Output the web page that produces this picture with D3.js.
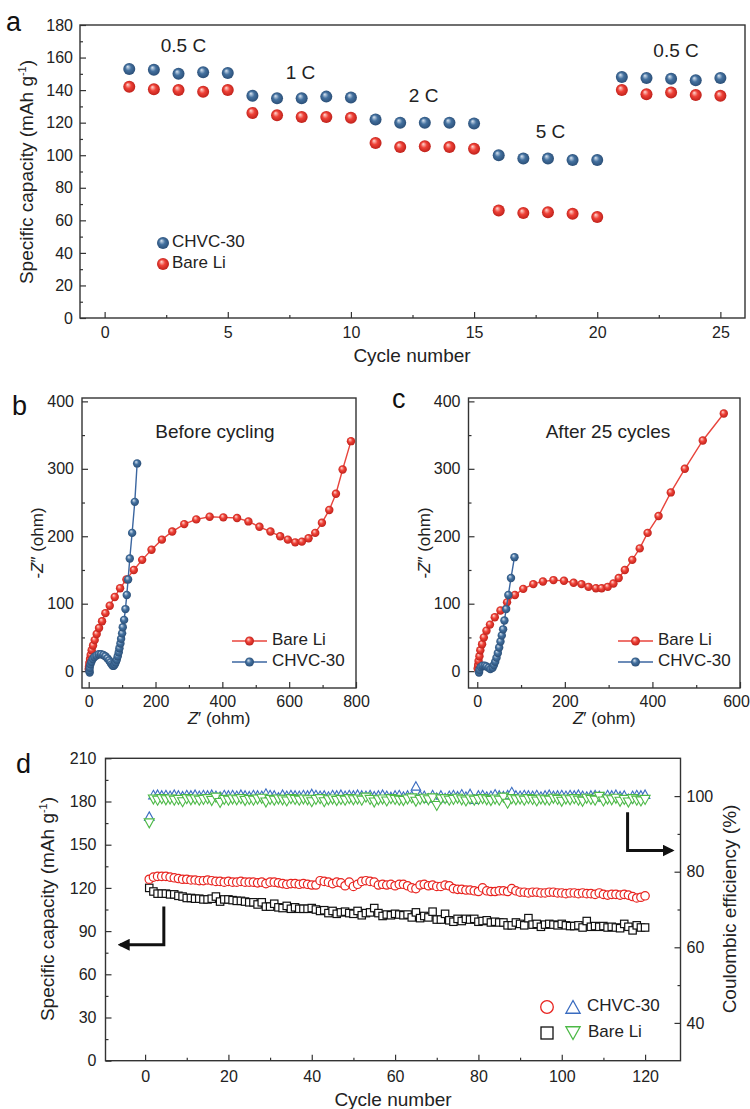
<!DOCTYPE html>
<html>
<head>
<meta charset="utf-8">
<script src="https://cdn.jsdelivr.net/npm/d3@7"></script>
<style>
  body { margin: 0; background: #fff; }
  svg { font-family: Arial, "Liberation Sans", Helvetica, sans-serif; }
</style>
</head>
<body>
<svg id="fig" width="750" height="1109"></svg>
<script>
// ---- data: panel a (rate capability) ----
const rateCycles = d3.range(1, 26);
const rateChvc = [153, 152.5, 150, 151, 150.5, 136.5, 135, 135, 136, 135.5, 122, 120, 120, 120, 119.5,
  100, 98, 98, 97, 97, 148, 147.5, 147, 146, 147.5];
const rateBare = [142, 140.5, 140, 139, 140, 126, 124.5, 123.5, 123.5, 123, 107.5, 105, 105.5, 105, 104,
  66, 64.5, 65, 64, 62, 140, 137.5, 138.5, 137, 136.5];
const rateLabels = ["0.5 C", "1 C", "2 C", "5 C", "0.5 C"];
const rateLabelAt = [[3.2, 166.5], [7.95, 150], [12.95, 135.7], [18.1, 113.6], [23.2, 163.4]];

// ---- data: panel b (EIS before cycling) ----
const bBareRe = [0, 1, 2, 4, 6, 9, 13, 18, 24, 31, 40, 50, 63, 78, 94, 113, 135, 160, 188, 219, 250, 286,
  322, 362, 403, 444, 478, 511, 544, 573, 596, 618, 638, 658, 678, 698, 720, 740, 760, 785];
const bBareIm = [3, 7, 12, 18, 24, 31, 38, 46, 55, 64, 74, 86, 97, 110, 123, 136, 150, 165, 180, 195, 207, 218,
  225, 229, 228, 227, 222, 214, 207, 200, 195, 191, 192, 197, 205, 220, 239, 263, 299, 341];
const bChvcRe = [3, 2, 3, 5, 8, 12, 17, 23, 30, 37, 44, 50, 56, 61, 65, 69, 72, 75, 78, 81, 84, 87, 90, 92,
  95, 97, 100, 102, 106, 110, 114, 118, 123, 130, 138, 145];
const bChvcIm = [-2, 1, 5, 10, 14, 18, 21, 23, 25, 25, 24, 22, 19, 16, 13, 10, 8, 8, 10, 13, 17, 22, 28, 34,
  41, 48, 56, 65, 76, 92, 113, 136, 167, 205, 251, 308];

// ---- data: panel c (EIS after 25 cycles) ----
const cBareRe = [1, 2, 3, 5, 7, 11, 15, 21, 29, 40, 53, 68, 86, 105, 128, 150, 174, 198, 220, 238, 254, 271,
  284, 298, 311, 323, 337, 354, 371, 389, 414, 442, 474, 515, 563];
const cBareIm = [4, 9, 15, 22, 31, 40, 50, 60, 69, 80, 90, 102, 113, 122, 129, 133, 135, 134, 131, 129, 125, 123,
  123, 125, 130, 138, 150, 165, 182, 205, 230, 265, 300, 342, 382];
const cChvcRe = [4, 5, 8, 12, 17, 21, 26, 30, 35, 38, 41, 44, 47, 50, 53, 56, 59, 62, 66, 71, 77, 85];
const cChvcIm = [-2, 2, 6, 8, 8, 7, 5, 3, 5, 9, 14, 20, 27, 35, 44, 53, 62, 75, 92, 113, 138, 169];

// ---- data: panel d (long cycling) ----
const longCycles = d3.range(1, 121);
const capChvc = [126, 127.5, 128, 128, 128, 127.5, 127, 126.5, 126, 126,
  125.5, 125.5, 125, 125, 125.5, 125, 124.5, 124.5, 124, 124.5,
  124, 124, 124.5, 124, 124, 124, 123.5, 124, 123, 124,
  124, 123.5, 123, 122.5, 123, 123, 122.5, 123, 122.5, 122,
  122, 125, 124.5, 124, 123, 124, 123.5, 121.5, 124, 121,
  122.5, 124.5, 125, 124.5, 124, 122, 122.5, 122, 122.5, 121.5,
  122.5, 122.5, 121.5, 120, 119.5, 122, 122.5, 121.5, 122, 121,
  121, 122, 121.5, 119.5, 119, 119, 118.5, 118.5, 118, 117.5,
  120, 118, 117.5, 117.5, 118, 118, 117.5, 119.5, 118, 117,
  117, 116.5, 117, 117, 116.5, 116.5, 117, 117, 116.5, 116.5,
  116, 116.5, 116.5, 116, 116.5, 116, 116, 115.5, 116.5, 115.5,
  115, 115.5, 115.5, 115, 115.5, 115, 114, 113, 113.5, 114.5];
const capBare = [120, 117.5, 116, 116, 116, 115.5, 115.5, 114.5, 114, 113,
  113, 112.5, 112.5, 112, 112, 112.5, 114, 110.5, 112, 112,
  111.5, 111, 111, 110.5, 110, 110, 108.5, 110, 107, 107,
  109, 106.5, 106, 107.5, 105.5, 106.5, 105.5, 105.5, 105.5, 106,
  105, 104, 104.5, 102.5, 104, 102, 103, 103.5, 102.5, 102,
  104, 101, 102.5, 103, 106, 102.5, 100.5, 101.5, 101, 102,
  101.5, 101, 101.5, 99.5, 103, 99, 100.5, 99.5, 103.5, 98,
  98, 102, 97.5, 96.5, 98.5, 97, 98.5, 98, 98.5, 96.5,
  97, 97.5, 96, 96.5, 96, 96, 94, 94, 96, 95,
  94, 99, 94.5, 95, 93, 94.5, 95, 94.5, 94, 95,
  94, 93.5, 93.5, 94, 92.5, 97, 93, 93.5, 93, 93.5,
  92.5, 93, 92.5, 92, 95, 93, 90.5, 94, 92.5, 92.5];
const ceChvc = [94.5, 100.2, 100.3, 100.1, 100.2, 100.0, 100.3, 100.1, 99.9, 100.2,
  100.1, 100.3, 100.0, 100.2, 100.1, 100.3, 100.0, 99.8, 100.2, 100.1,
  100.2, 100.0, 100.3, 100.1, 99.9, 100.2, 100.1, 100.0, 100.6, 100.2,
  100.1, 99.6, 100.3, 100.0, 100.2, 100.1, 100.0, 100.2, 100.1, 100.5,
  100.2, 100.0, 100.1, 99.8, 100.2, 100.1, 100.3, 100.0, 100.2, 100.1,
  100.3, 100.1, 100.0, 100.2, 99.9, 100.1, 100.3, 100.0, 99.7, 100.1,
  100.2, 99.8, 100.1, 100.0, 102.5, 100.1, 100.0, 99.3, 100.2, 99.5,
  100.1, 99.4, 100.0, 100.2, 99.9, 100.4, 99.8, 100.5, 99.0, 100.1,
  100.2, 99.8, 100.0, 100.4, 100.1, 99.9, 100.2, 101.0, 100.1, 100.0,
  100.2, 100.1, 100.0, 100.2, 99.8, 100.1, 100.3, 100.0, 100.1, 100.2,
  100.0, 100.2, 100.1, 100.3, 100.0, 99.8, 100.1, 100.2, 100.0, 99.6,
  100.2, 100.1, 100.3, 99.9, 100.1, 99.2, 100.0, 100.2, 100.1, 100.3];
const ceBare = [93.0, 99.3, 99.0, 99.4, 99.1, 99.3, 99.0, 99.2, 98.6, 99.4,
  99.1, 99.3, 99.0, 99.2, 99.4, 98.9, 99.8, 98.4, 99.2, 99.0,
  99.3, 99.1, 99.4, 98.9, 99.2, 99.0, 99.3, 99.5, 98.5, 99.2,
  99.0, 99.3, 99.1, 98.8, 99.4, 99.2, 99.0, 99.3, 99.1, 98.6,
  99.2, 99.4, 98.6, 99.1, 99.3, 98.9, 99.2, 99.0, 99.4, 99.1,
  99.3, 99.0, 99.8, 99.2, 98.5, 99.1, 99.3, 98.8, 99.4, 99.2,
  99.0, 98.9, 99.3, 99.6, 98.7, 99.2, 99.5, 99.1, 99.6, 97.6,
  99.3, 99.4, 99.0, 99.2, 99.5, 99.1, 98.8, 99.3, 99.0, 99.2,
  99.4, 99.1, 98.9, 99.3, 99.0, 99.8, 98.2, 99.4, 99.1, 99.3,
  99.0, 99.4, 99.2, 98.8, 99.3, 99.1, 99.0, 99.5, 99.2, 98.7,
  99.3, 99.1, 99.4, 99.0, 98.7, 99.5, 99.2, 99.0, 100.0, 98.8,
  99.3, 99.1, 99.5, 98.7, 99.2, 98.5, 99.4, 99.0, 98.8, 99.2];

const svg = d3.select("#fig");
const defs = svg.append("defs");
const ink = "#222";

function ballGradient(id, light, mid, dark) {
  const g = defs.append("radialGradient").attr("id", id)
    .attr("cx", "50%").attr("cy", "50%").attr("r", "55%")
    .attr("fx", "36%").attr("fy", "30%");
  g.append("stop").attr("offset", "0%").attr("stop-color", light);
  g.append("stop").attr("offset", "45%").attr("stop-color", mid);
  g.append("stop").attr("offset", "100%").attr("stop-color", dark);
}
ballGradient("ballBlue", "#dbe6f2", "#44719f", "#274a72");
ballGradient("ballRed", "#ffdcd5", "#ef4238", "#b81c16");

// frame with inward ticks on all data axes
function drawAxes(x, y, o) {
  const [x0, x1] = x.range();
  const [yb, yt] = y.range();
  const g = svg.append("g");
  const fmt = d3.format("d");
  g.append("g").attr("class", "xaxis").attr("transform", `translate(0,${yb})`)
    .call(d3.axisBottom(x).tickValues(o.xMajor).tickSize(-6).tickPadding(o.xPad).tickFormat(fmt));
  g.append("g").attr("transform", `translate(0,${yb})`)
    .call(d3.axisBottom(x).tickValues(o.xMinor).tickSize(-3).tickFormat(""));
  g.append("g").attr("transform", `translate(${x0},0)`)
    .call(d3.axisLeft(y).tickValues(o.yMajor).tickSize(-6).tickPadding(o.yPad).tickFormat(fmt));
  g.append("g").attr("transform", `translate(${x0},0)`)
    .call(d3.axisLeft(y).tickValues(o.yMinor).tickSize(-3).tickFormat(""));
  if (o.y2) {
    g.append("g").attr("transform", `translate(${x1},0)`)
      .call(d3.axisRight(o.y2).tickValues(o.y2Major).tickSize(-6).tickPadding(6).tickFormat(fmt));
    g.append("g").attr("transform", `translate(${x1},0)`)
      .call(d3.axisRight(o.y2).tickValues(o.y2Minor).tickSize(-3).tickFormat(""));
  }
  g.selectAll(".domain").remove();
  g.selectAll(".tick line").attr("stroke", "#333").attr("stroke-width", 1.2);
  g.selectAll(".tick text").attr("fill", ink).style("font-size", "16px");
  g.append("rect").attr("x", x0).attr("y", yt).attr("width", x1 - x0).attr("height", yb - yt)
    .attr("fill", "none").attr("stroke", "#333").attr("stroke-width", 1.4);
  return g;
}

function panelLetter(t, x, y) {
  svg.append("text").attr("x", x).attr("y", y).attr("fill", "#111")
    .style("font-size", "27px").text(t);
}

function capacityTitle(x, y) {
  const t = svg.append("text").attr("transform", `translate(${x},${y}) rotate(-90)`)
    .attr("text-anchor", "middle").attr("fill", ink).style("font-size", "19px");
  t.append("tspan").text("Specific capacity (mAh g");
  t.append("tspan").attr("dy", -7).style("font-size", "11px").text("-1");
  t.append("tspan").attr("dy", 7).text(")");
}

// ================= panel a =================
const ax = d3.scaleLinear([-1, 26], [80, 745]);
const ay = d3.scaleLinear([0, 180], [318, 25]);
drawAxes(ax, ay, {
  xMajor: [0, 5, 10, 15, 20, 25], xMinor: [2.5, 7.5, 12.5, 17.5, 22.5], xPad: 9,
  yMajor: d3.range(0, 181, 20), yMinor: d3.range(10, 180, 20), yPad: 7
});
svg.append("g").selectAll("circle").data(rateCycles).join("circle")
  .attr("cx", d => ax(d)).attr("cy", (d, i) => ay(rateBare[i])).attr("r", 6)
  .attr("fill", "url(#ballRed)");
svg.append("g").selectAll("circle").data(rateCycles).join("circle")
  .attr("cx", d => ax(d)).attr("cy", (d, i) => ay(rateChvc[i])).attr("r", 6)
  .attr("fill", "url(#ballBlue)");
svg.append("g").selectAll("text").data(rateLabels).join("text")
  .attr("x", (d, i) => ax(rateLabelAt[i][0])).attr("y", (d, i) => ay(rateLabelAt[i][1]))
  .attr("text-anchor", "middle").attr("dominant-baseline", "middle")
  .attr("fill", ink).style("font-size", "19px").text(d => d);
[["CHVC-30", "url(#ballBlue)", 243], ["Bare Li", "url(#ballRed)", 264]].forEach(([name, fill, yy]) => {
  svg.append("circle").attr("cx", 163).attr("cy", yy).attr("r", 6).attr("fill", fill);
  svg.append("text").attr("x", 172).attr("y", yy).attr("dominant-baseline", "middle")
    .attr("fill", ink).style("font-size", "17px").text(name);
});
svg.append("text").attr("x", 412).attr("y", 362).attr("text-anchor", "middle")
  .attr("fill", ink).style("font-size", "19px").text("Cycle number");
capacityTitle(33, 172);
panelLetter("a", 6, 31);

// ================= panels b, c =================
function nyquist(x, y, series, title, titleX, legX) {
  const line = d3.line().x(d => x(d[0])).y(d => y(d[1]));
  series.forEach(s => {
    const pts = s.re.map((r, i) => [r, s.im[i]]);
    svg.append("path").datum(pts).attr("d", line).attr("fill", "none")
      .attr("stroke", s.color).attr("stroke-width", 1.4);
    svg.append("g").selectAll("circle").data(pts).join("circle")
      .attr("cx", d => x(d[0])).attr("cy", d => y(d[1])).attr("r", 4.2).attr("fill", s.ball);
  });
  svg.append("text").attr("x", titleX).attr("y", 433).attr("text-anchor", "middle")
    .attr("dominant-baseline", "middle").attr("fill", ink).style("font-size", "19px").text(title);
  [["Bare Li", "#e8443c", "url(#ballRed)", 641], ["CHVC-30", "#3b66a0", "url(#ballBlue)", 662]]
    .forEach(([name, col, ball, yy]) => {
      svg.append("line").attr("x1", legX).attr("x2", legX + 35).attr("y1", yy).attr("y2", yy)
        .attr("stroke", col).attr("stroke-width", 1.4);
      svg.append("circle").attr("cx", legX + 17.5).attr("cy", yy).attr("r", 4.5).attr("fill", ball);
      svg.append("text").attr("x", legX + 40).attr("y", yy).attr("dominant-baseline", "middle")
        .attr("fill", ink).style("font-size", "17px").text(name);
    });
  const [x0, x1] = x.range();
  const xt = svg.append("text").attr("x", (x0 + x1) / 2).attr("y", 724).attr("text-anchor", "middle")
    .attr("fill", ink).style("font-size", "17px");
  xt.append("tspan").style("font-style", "italic").text("Z");
  xt.append("tspan").text("\u2032 (ohm)");
  const yt = svg.append("text").attr("transform", `translate(${x0 - 39},543) rotate(-90)`)
    .attr("text-anchor", "middle").attr("fill", ink).style("font-size", "17px");
  yt.append("tspan").text("-");
  yt.append("tspan").style("font-style", "italic").text("Z");
  yt.append("tspan").text("\u2033 (ohm)");
}

const by = d3.scaleLinear([-25, 405], [688, 398]);
const bx = d3.scaleLinear([-20, 800], [82, 356]);
drawAxes(bx, by, {
  xMajor: [0, 200, 400, 600, 800], xMinor: [100, 300, 500, 700], xPad: 8,
  yMajor: [0, 100, 200, 300, 400], yMinor: [50, 150, 250, 350], yPad: 8
});
nyquist(bx, by, [
  { re: bBareRe, im: bBareIm, color: "#e8443c", ball: "url(#ballRed)" },
  { re: bChvcRe, im: bChvcIm, color: "#3b66a0", ball: "url(#ballBlue)" }
], "Before cycling", 215, 232);
panelLetter("b", 12, 415);

const cx = d3.scaleLinear([-20, 600], [468.5, 740]);
const cAxes = drawAxes(cx, by, {
  xMajor: [0, 200, 400, 600], xMinor: [100, 300, 500], xPad: 8,
  yMajor: [0, 100, 200, 300, 400], yMinor: [50, 150, 250, 350], yPad: 8
});
// the last x label sits at the page edge, as in the figure: nudge it inside
cAxes.select(".xaxis").selectAll(".tick text").filter(d => d === 600).attr("dx", -4);
nyquist(cx, by, [
  { re: cBareRe, im: cBareIm, color: "#e8443c", ball: "url(#ballRed)" },
  { re: cChvcRe, im: cChvcIm, color: "#3b66a0", ball: "url(#ballBlue)" }
], "After 25 cycles", 608, 618);
panelLetter("c", 392, 408);

// ================= panel d =================
const dx = d3.scaleLinear([-9.5, 128.5], [105.5, 680.5]);
const dy = d3.scaleLinear([0, 210], [1060.7, 758.3]);
const dy2 = d3.scaleLinear([30, 110], [1060.7, 758.3]);
drawAxes(dx, dy, {
  xMajor: d3.range(0, 121, 20), xMinor: d3.range(10, 120, 20), xPad: 10,
  yMajor: d3.range(0, 211, 30), yMinor: d3.range(15, 210, 30), yPad: 9,
  y2: dy2, y2Major: [40, 60, 80, 100], y2Minor: [50, 70, 90]
});

const triUp = (s) => `M0,${-s}L${s * 0.95},${s * 0.7}L${-s * 0.95},${s * 0.7}Z`;
const triDown = (s) => `M0,${s}L${s * 0.95},${-s * 0.7}L${-s * 0.95},${-s * 0.7}Z`;

svg.append("g").selectAll("rect").data(longCycles).join("rect")
  .attr("x", d => dx(d) - 3.7).attr("y", (d, i) => dy(capBare[i]) - 3.7)
  .attr("width", 7.4).attr("height", 7.4)
  .attr("fill", "#fff").attr("stroke", "#111").attr("stroke-width", 1.2);
svg.append("g").selectAll("circle").data(longCycles).join("circle")
  .attr("cx", d => dx(d)).attr("cy", (d, i) => dy(capChvc[i])).attr("r", 4.2)
  .attr("fill", "#fff").attr("stroke", "#e8231f").attr("stroke-width", 1.2);
svg.append("g").selectAll("path").data(longCycles).join("path")
  .attr("transform", (d, i) => `translate(${dx(d)},${dy2(ceChvc[i])})`).attr("d", triUp(5))
  .attr("fill", "#fff").attr("stroke", "#3a6cc0").attr("stroke-width", 1.1);
svg.append("g").selectAll("path").data(longCycles).join("path")
  .attr("transform", (d, i) => `translate(${dx(d)},${dy2(ceBare[i])})`).attr("d", triDown(5.3))
  .attr("fill", "#fff").attr("stroke", "#4cb946").attr("stroke-width", 1.1);

// direction arrows
defs.append("marker").attr("id", "arrowHead").attr("viewBox", "0 0 10 10")
  .attr("refX", 8).attr("refY", 5).attr("markerWidth", 4).attr("markerHeight", 4)
  .attr("orient", "auto").append("path").attr("d", "M0,0L10,5L0,10Z").attr("fill", "#111");
svg.append("path")
  .attr("d", `M${dx(4.5)},${dy(107)}V${dy(80.5)}H${dx(-6)}`)
  .attr("fill", "none").attr("stroke", "#111").attr("stroke-width", 3)
  .attr("marker-end", "url(#arrowHead)");
svg.append("path")
  .attr("d", `M${dx(115.8)},${dy2(95.7)}V${dy2(85.6)}H${dx(126.5)}`)
  .attr("fill", "none").attr("stroke", "#111").attr("stroke-width", 3)
  .attr("marker-end", "url(#arrowHead)");

// legend d
const lg = svg.append("g");
lg.append("circle").attr("cx", 547).attr("cy", 1007).attr("r", 6.3)
  .attr("fill", "#fff").attr("stroke", "#e8231f").attr("stroke-width", 1.3);
lg.append("path").attr("transform", "translate(573,1008)").attr("d", triUp(7.5))
  .attr("fill", "#fff").attr("stroke", "#3a6cc0").attr("stroke-width", 1.3);
lg.append("rect").attr("x", 541).attr("y", 1027).attr("width", 12).attr("height", 12)
  .attr("fill", "#fff").attr("stroke", "#111").attr("stroke-width", 1.3);
lg.append("path").attr("transform", "translate(573,1032)").attr("d", triDown(7.5))
  .attr("fill", "#fff").attr("stroke", "#4cb946").attr("stroke-width", 1.3);
lg.append("text").attr("x", 587).attr("y", 1007).attr("dominant-baseline", "middle")
  .attr("fill", ink).style("font-size", "17px").text("CHVC-30");
lg.append("text").attr("x", 588).attr("y", 1033).attr("dominant-baseline", "middle")
  .attr("fill", ink).style("font-size", "17px").text("Bare Li");

svg.append("text").attr("x", 393).attr("y", 1106).attr("text-anchor", "middle")
  .attr("fill", ink).style("font-size", "19px").text("Cycle number");
capacityTitle(54, 909);
svg.append("text").attr("transform", "translate(736,909) rotate(-90)")
  .attr("text-anchor", "middle").attr("fill", ink).style("font-size", "19px")
  .text("Coulombic efficiency (%)");
panelLetter("d", 16, 773);
</script>
</body>
</html>
